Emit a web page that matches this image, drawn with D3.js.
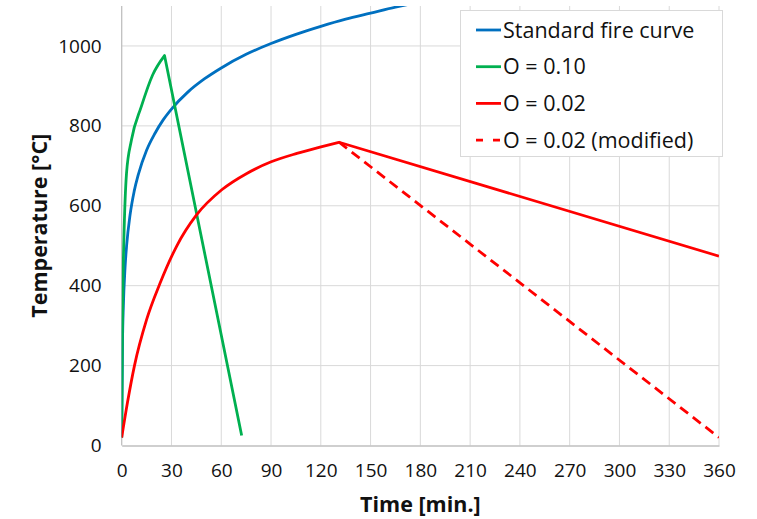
<!DOCTYPE html>
<html>
<head>
<meta charset="utf-8">
<script src="https://cdn.jsdelivr.net/npm/d3@7"></script>
<style>
  html, body { margin: 0; padding: 0; background: #fff; }
  svg { display: block; }
  text { font-family: "Open Sans", sans-serif; fill: #111; }
</style>
</head>
<body>
<svg id="chart" width="757" height="519"></svg>
<script>
// ---- data ----
const xTicks = [0, 30, 60, 90, 120, 150, 180, 210, 240, 270, 300, 330, 360];
const yTicks = [0, 200, 400, 600, 800, 1000];

const standardTime = [0, 0.5, 1, 2, 3, 5, 7.5, 10, 15, 20, 25, 30, 40, 50, 60, 75, 90, 105, 120, 135, 150, 165, 175];
const standardTemp = [20, 261, 349, 444, 502, 576, 636, 678, 739, 781, 815, 842, 885, 918, 945, 979, 1006, 1029, 1049, 1067, 1082, 1097, 1106];

const o10Time = [0, 0.4, 0.8, 1.3, 2.9, 5.9, 11.8, 18.7, 25.8, 72.3];
const o10Temp = [20, 280, 420, 514, 681, 765, 848, 928, 976, 25];

const o02Time = [0, 3.5, 7.7, 15, 23.1, 33, 45.1, 60.3, 75.4, 90.1, 105.6, 120.7, 131, 360];
const o02Temp = [20, 108, 200, 315, 406, 498, 577, 640, 681, 710, 731, 748, 759, 474];

const o02modTime = [131, 360];
const o02modTemp = [759, 20];

const seriesNames = ["Standard fire curve", "O = 0.10", "O = 0.02", "O = 0.02 (modified)"];
const seriesColors = ["#0070C0", "#00B050", "#FF0000", "#FF0000"];
const seriesDash = [null, null, null, "10,6"];
const legendDash = [null, null, null, "7,10"];

// ---- layout ----
const svg = d3.select("#chart");
const W = 757, H = 519;
const margin = { left: 121.7, right: 38, top: 6, bottom: 73.5 };
const x = d3.scaleLinear().domain([0, 360]).range([margin.left, W - margin.right]);
const y = d3.scaleLinear().domain([0, 1100]).range([H - margin.bottom, margin.top]);

// gridlines
const grid = svg.append("g");
grid.selectAll("line.v").data(xTicks.slice(1)).enter().append("line")
  .attr("x1", d => x(d)).attr("x2", d => x(d))
  .attr("y1", y(0)).attr("y2", y(1100))
  .attr("stroke", "#d9d9d9").attr("stroke-width", 1);
grid.selectAll("line.h").data(yTicks.slice(1)).enter().append("line")
  .attr("x1", x(0)).attr("x2", x(360))
  .attr("y1", d => y(d)).attr("y2", d => y(d))
  .attr("stroke", "#d9d9d9").attr("stroke-width", 1);

// axes
const xAxis = d3.axisBottom(x).tickValues(xTicks).tickFormat(d3.format("d")).tickSize(0).tickPadding(18);
const yAxis = d3.axisLeft(y).tickValues(yTicks).tickFormat(d3.format("d")).tickSize(0).tickPadding(20);
const gx = svg.append("g").attr("transform", `translate(0,${y(0)})`).call(xAxis);
const gy = svg.append("g").attr("transform", `translate(${x(0)},0)`).call(yAxis);
[gx, gy].forEach(g => {
  g.select(".domain").attr("stroke", "#bfbfbf").attr("stroke-width", 1.3);
  g.selectAll("text").style("font-family", "'Open Sans', sans-serif").style("font-size", "19px").attr("fill", "#111");
});
gy.select(".domain").attr("d", `M0,${y(0)}V${y(1100)}`);

// axis titles
svg.append("text")
  .attr("x", (x(0) + x(360)) / 2).attr("y", 512)
  .attr("text-anchor", "middle")
  .style("font-size", "21.5px").style("font-weight", "bold")
  .text("Time [min.]");
svg.append("text")
  .attr("transform", `translate(47,${(y(0) + y(1100)) / 2}) rotate(-90)`)
  .attr("text-anchor", "middle")
  .style("font-size", "21.5px").style("font-weight", "bold")
  .text("Temperature [°C]");

// clip
svg.append("clipPath").attr("id", "plotclip").append("rect")
  .attr("x", x(0)).attr("y", y(1100)).attr("width", x(360) - x(0)).attr("height", y(0) - y(1100));

const curved = d3.line().x(d => x(d[0])).y(d => y(d[1])).curve(d3.curveMonotoneX);
const straight = d3.line().x(d => x(d[0])).y(d => y(d[1]));
const series = [
  d3.zip(standardTime, standardTemp),
  d3.zip(o10Time, o10Temp),
  d3.zip(o02Time, o02Temp),
  d3.zip(o02modTime, o02modTemp)
];
const plot = svg.append("g").attr("clip-path", "url(#plotclip)");
series.forEach((s, i) => {
  // smooth heating branch up to the peak, straight cooling branch after it
  const peak = d3.maxIndex(s, d => d[1]);
  const heat = s.slice(0, peak + 1);
  const cool = s.slice(peak);
  let d = "";
  if (heat.length > 1) d += curved(heat);
  if (cool.length > 1) d += (d ? straight(cool).replace(/^M/, "L") : straight(cool));
  plot.append("path")
    .attr("d", d)
    .attr("fill", "none")
    .attr("stroke", seriesColors[i])
    .attr("stroke-width", 2.8)
    .attr("stroke-linejoin", "round")
    .attr("stroke-dasharray", seriesDash[i]);
});

// legend
const lg = svg.append("g");
lg.append("rect").attr("x", 460.5).attr("y", 10.5).attr("width", 262).attr("height", 146)
  .attr("fill", "#fff").attr("stroke", "#d9d9d9").attr("stroke-width", 1);
seriesNames.forEach((name, i) => {
  const cy = 30 + i * 36.7;
  lg.append("line").attr("x1", 476).attr("x2", 501).attr("y1", cy).attr("y2", cy)
    .attr("stroke", seriesColors[i]).attr("stroke-width", 2.8)
    .attr("stroke-dasharray", legendDash[i]);
  lg.append("text").attr("x", 503).attr("y", cy).attr("dy", "0.35em")
    .style("font-size", "21.5px").text(name);
});
</script>
</body>
</html>
